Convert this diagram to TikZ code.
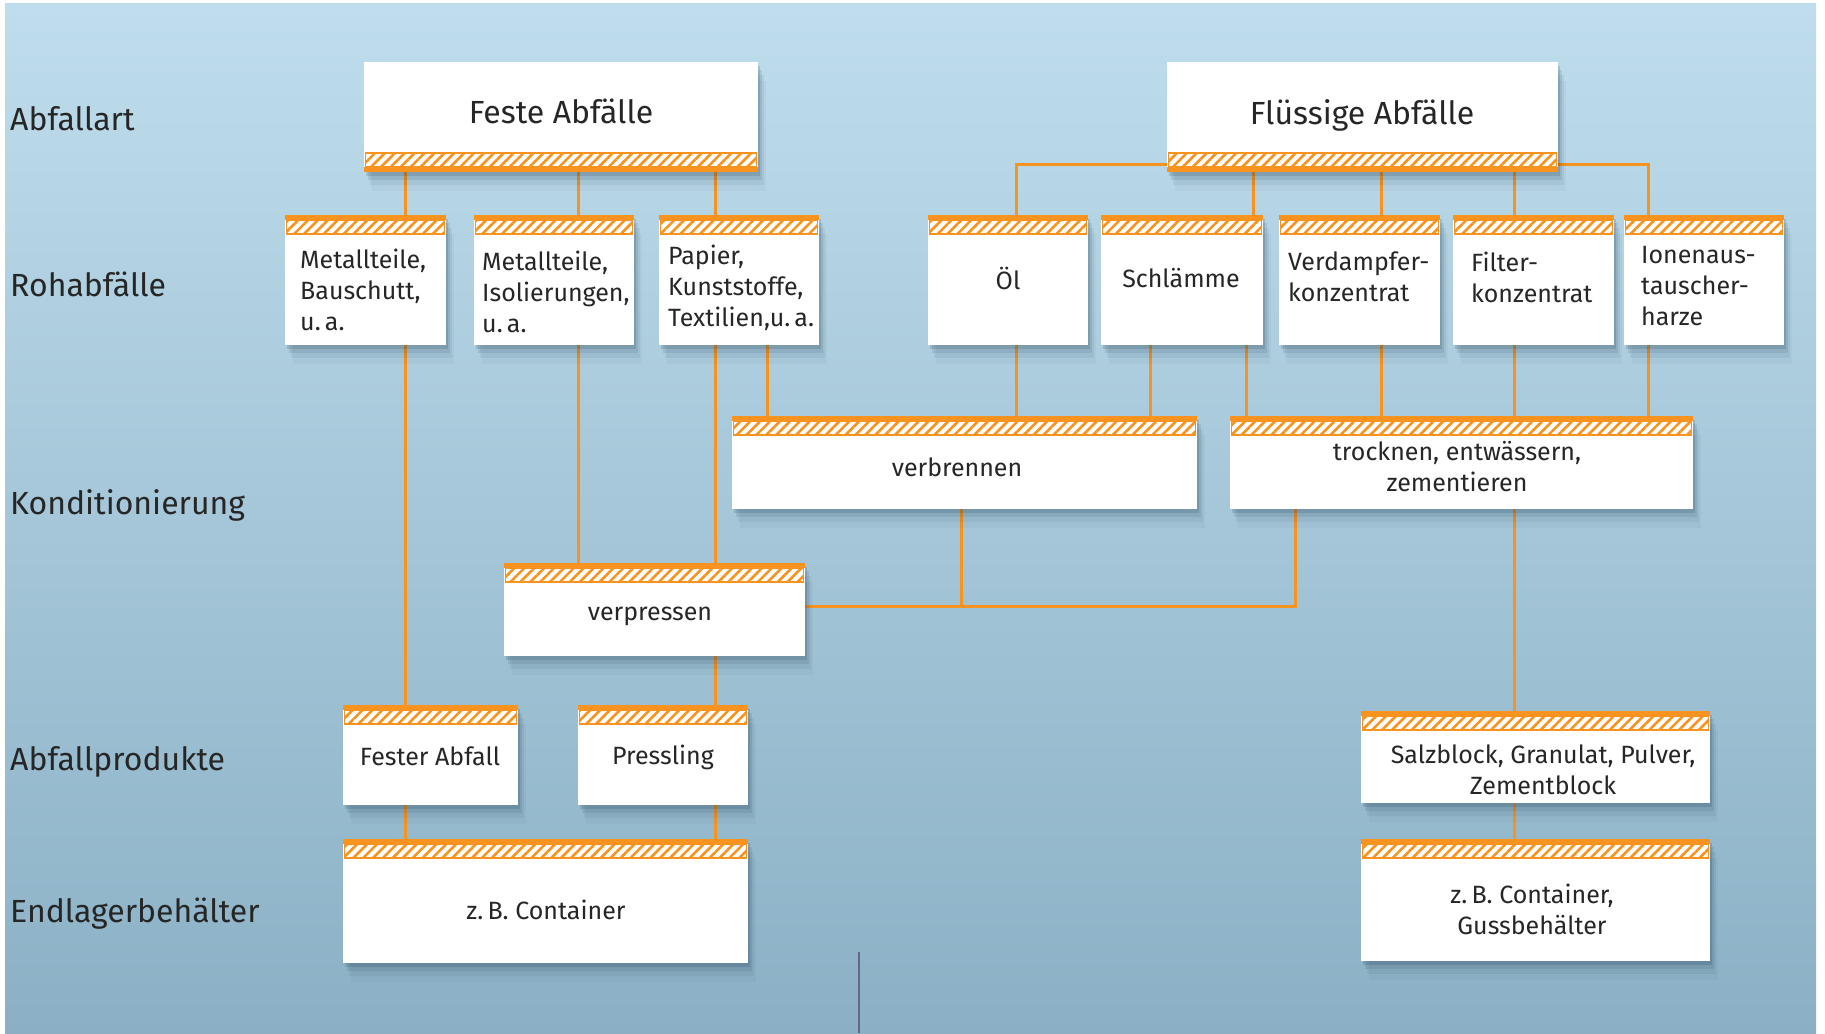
\documentclass[tikz,border=0pt]{standalone}
\usepackage{fontspec}
\setmainfont{Fira Sans}
\usetikzlibrary{patterns.meta,shadows,fit,calc}
\definecolor{bgtop}{HTML}{BFDDEC}
\definecolor{bgbot}{HTML}{8BB0C5}
\definecolor{org}{HTML}{F7931E}
\definecolor{txtc}{HTML}{262626}
\definecolor{shad}{HTML}{1E3A50}
\pgfdeclarelayer{bg}
\pgfdeclarelayer{lines}
\pgfsetlayers{bg,lines,main}
\tikzset{
  box/.style={fill=white, inner sep=0pt, outer sep=0pt,
    general shadow={fill=shad, opacity=.16, shadow xshift=2pt, shadow yshift=-4pt},
    general shadow={fill=shad, opacity=.11, shadow xshift=4pt, shadow yshift=-8pt},
    general shadow={fill=shad, opacity=.07, shadow xshift=6pt, shadow yshift=-13pt},
    general shadow={fill=shad, opacity=.04, shadow xshift=8pt, shadow yshift=-19pt}},
  bandtop/.style={path picture={
    \fill[org] (path picture bounding box.north west) rectangle ([yshift=-5pt]path picture bounding box.north east);
    \path[pattern={Lines[angle=45,distance=7pt,line width=2.6pt]}, pattern color=org]
      ([xshift=1.5pt,yshift=-5pt]path picture bounding box.north west) rectangle ([xshift=-1.5pt,yshift=-19pt]path picture bounding box.north east);
    \draw[org, line width=1.3pt]
      ([xshift=1.5pt,yshift=-5pt]path picture bounding box.north west) rectangle ([xshift=-1.5pt,yshift=-19pt]path picture bounding box.north east);
  }},
  bandbot/.style={path picture={
    \fill[org] (path picture bounding box.south west) rectangle ([yshift=5pt]path picture bounding box.south east);
    \path[pattern={Lines[angle=45,distance=7pt,line width=2.6pt]}, pattern color=org]
      ([xshift=1.5pt,yshift=5pt]path picture bounding box.south west) rectangle ([xshift=-1.5pt,yshift=19pt]path picture bounding box.south east);
    \draw[org, line width=1.3pt]
      ([xshift=1.5pt,yshift=5pt]path picture bounding box.south west) rectangle ([xshift=-1.5pt,yshift=19pt]path picture bounding box.south east);
  }},
  txt/.style={inner sep=0pt, text=txtc, font=\fontsize{25}{31}\selectfont},
  title/.style={inner sep=0pt, text=txtc, font=\fontsize{32}{38}\selectfont},
  rowlab/.style={inner sep=0pt, text=txtc, anchor=west, font=\fontsize{32}{38}\selectfont},
  conn/.style={draw=org, line width=3pt},
}
\begin{document}
\begin{tikzpicture}[x=1pt,y=-1pt]
\useasboundingbox (0,0) rectangle (1825,1033);
\begin{pgfonlayer}{bg}
  \fill[white] (0,0) rectangle (1825,1033);
  \fill[top color=bgtop, bottom color=bgbot] (5,4) rectangle (1816,1033);
  \draw[black!75!blue!60, line width=2pt] (859,952) -- (859,1033);
\end{pgfonlayer}

% row labels
\node[rowlab] (lab1) at (10,119) {Abfallart};
\node[rowlab] (lab2) at (10,284) {Rohabfälle};
\node[rowlab] (lab3) at (10,505) {Konditionierung};
\node[rowlab] (lab4) at (10,762) {Abfallprodukte};
\node[rowlab] (lab5) at (10,914) {Endlagerbehälter};

% top boxes
\node[box, bandbot, fit={(364,62) (758,172)}] (feste) {};
\node[title] (festet) at (561,111) {Feste Abfälle};
\node[box, bandbot, fit={(1167,62) (1558,172)}] (fl) {};
\node[title] (flt) at (1362,115) {Flüssige Abfälle};

% Rohabfälle
\node[box, bandtop, fit={(285,215) (446,345)}] (r1) {};
\node[txt, anchor=west, align=left] (r1t) at (300,290) {Metallteile,\\Bauschutt,\\u.\,a.};
\node[box, bandtop, fit={(474,215) (634,345)}] (r2) {};
\node[txt, anchor=west, align=left] (r2t) at (482,292) {Metallteile,\\Isolierungen,\\u.\,a.};
\node[box, bandtop, fit={(659,215) (819,345)}] (r3) {};
\node[txt, anchor=west, align=left] (r3t) at (668,288) {Papier,\\Kunststoffe,\\Textilien,u.\,a.};
\node[box, bandtop, fit={(928,215) (1088,345)}] (oel) {};
\node[txt] (oelt) at (1008,278) {Öl};
\node[box, bandtop, fit={(1101,215) (1263,345)}] (schl) {};
\node[txt] (schlt) at (1181,278) {Schlämme};
\node[box, bandtop, fit={(1279,215) (1440,345)}] (verd) {};
\node[txt, anchor=west, align=left] (verdt) at (1288,277) {Verdampfer-\\konzentrat};
\node[box, bandtop, fit={(1453,215) (1614,345)}] (filt) {};
\node[txt, anchor=west, align=left] (filtt) at (1471,277) {Filter-\\konzentrat};
\node[box, bandtop, fit={(1624,215) (1784,345)}] (ion) {};
\node[txt, anchor=west, align=left] (iont) at (1641,286) {Ionenaus-\\tauscher-\\harze};

% Konditionierung
\node[box, bandtop, fit={(732,416) (1197,509)}] (vb) {};
\node[txt] (vbt) at (957,467) {verbrennen};
\node[box, bandtop, fit={(1230,416) (1693,509)}] (tr) {};
\node[txt, align=center] (trt) at (1457,467) {trocknen, entwässern,\\zementieren};
\node[box, bandtop, fit={(504,563) (805,656)}] (vp) {};
\node[txt] (vpt) at (650,616) {verpressen};

% Abfallprodukte
\node[box, bandtop, fit={(343,705) (518,805)}] (fa) {};
\node[txt] (fat) at (430,756) {Fester Abfall};
\node[box, bandtop, fit={(578,705) (748,805)}] (pr) {};
\node[txt] (prt) at (663,757) {Pressling};
\node[box, bandtop, fit={(1361,711) (1710,803)}] (salz) {};
\node[txt, align=center] (salzt) at (1543,770) {Salzblock, Granulat, Pulver,\\Zementblock};

% Endlager
\node[box, bandtop, fit={(343,839) (748,963)}] (cont) {};
\node[txt] (contt) at (546,910) {z.\,B. Container};
\node[box, bandtop, fit={(1361,839) (1710,961)}] (guss) {};
\node[txt, align=center] (gusst) at (1532,909) {z.\,B. Container,\\Gussbehälter};

% helper coordinates
\foreach \xx in {405,578,715,767,961,1016,1150,1246,1253,1295,1381,1514,1648}
  \coordinate (c\xx) at (\xx,0);
\coordinate (yH) at (0,164);
\coordinate (yV) at (0,606);

\begin{pgfonlayer}{lines}
  \draw[conn] (feste.south -| c405) -- (r1.north -| c405);
  \draw[conn] (feste.south -| c578) -- (r2.north -| c578);
  \draw[conn] (feste.south -| c715) -- (r3.north -| c715);
  \draw[conn] (oel.north -| c1016) |- (fl.west |- yH);
  \draw[conn] (ion.north -| c1648) |- (fl.east |- yH);
  \draw[conn] (fl.south -| c1253) -- (schl.north -| c1253);
  \draw[conn] (fl.south -| c1381) -- (verd.north -| c1381);
  \draw[conn] (fl.south -| c1514) -- (filt.north -| c1514);

  \draw[conn] (r1.south -| c405) -- (fa.north -| c405);
  \draw[conn] (r2.south -| c578) -- (vp.north -| c578);
  \draw[conn] (r3.south -| c715) -- (vp.north -| c715);
  \draw[conn] (r3.south -| c767) -- (vb.north -| c767);
  \draw[conn] (oel.south -| c1016) -- (vb.north -| c1016);
  \draw[conn] (schl.south -| c1150) -- (vb.north -| c1150);
  \draw[conn] (schl.south -| c1246) -- (tr.north -| c1246);
  \draw[conn] (verd.south -| c1381) -- (tr.north -| c1381);
  \draw[conn] (filt.south -| c1514) -- (tr.north -| c1514);
  \draw[conn] (ion.south -| c1648) -- (tr.north -| c1648);

  \draw[conn] (vb.south -| c961) -- (c961 |- yV);
  \draw[conn] (vp.east |- yV) -| (tr.south -| c1295);
  \draw[conn] (tr.south -| c1514) -- (salz.north -| c1514);
  \draw[conn] (vp.south -| c715) -- (pr.north -| c715);

  \draw[conn] (fa.south -| c405) -- (cont.north -| c405);
  \draw[conn] (pr.south -| c715) -- (cont.north -| c715);
  \draw[conn] (salz.south -| c1514) -- (guss.north -| c1514);
\end{pgfonlayer}
\end{tikzpicture}
\end{document}
